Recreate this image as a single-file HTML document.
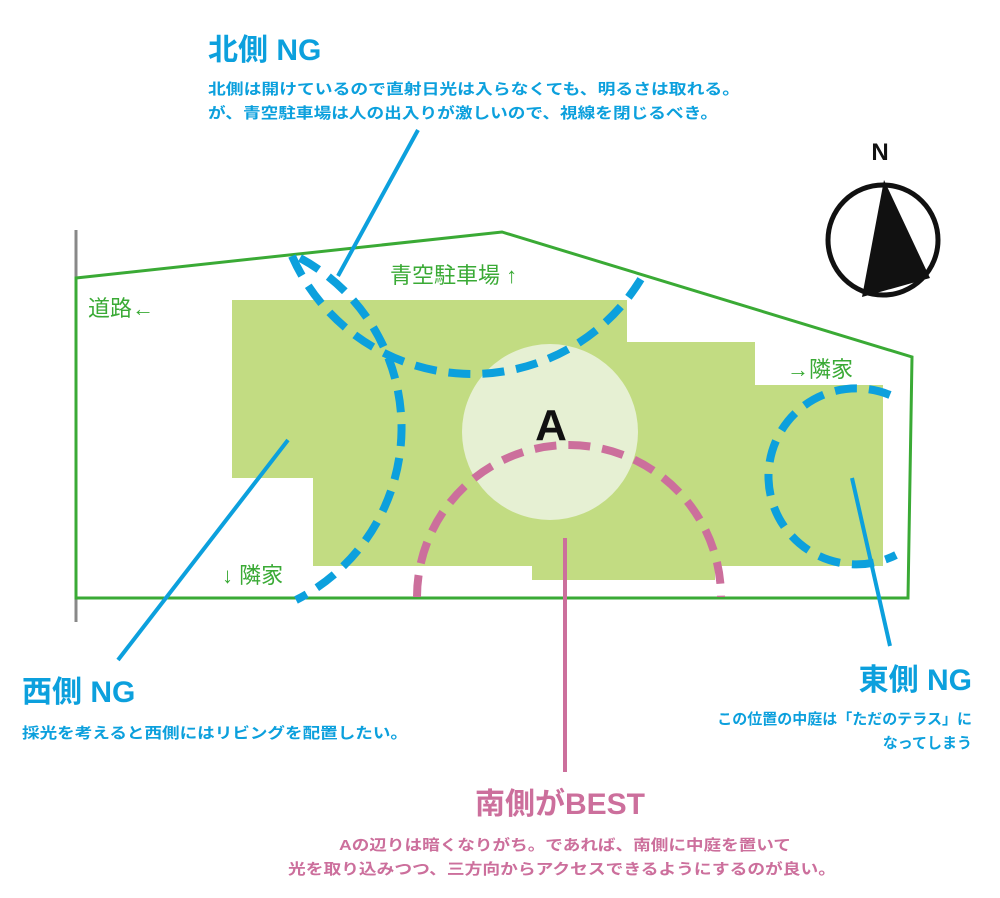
<!DOCTYPE html>
<html><head><meta charset="utf-8"><style>
html,body{margin:0;padding:0;background:#fff;}
svg{display:block;}
text{font-family:"Liberation Sans","Noto Sans CJK JP",sans-serif;font-weight:bold;}
</style></head><body>
<svg width="1000" height="898" viewBox="0 0 1000 898" xmlns="http://www.w3.org/2000/svg">
<!-- light green area -->
<polygon points="232,300 627,300 627,342 755,342 755,385 883,385 883,566 715,566 715,580 532,580 532,566 313,566 313,478 232,478" fill="#c2dc82"/>
<circle cx="550" cy="432" r="88" fill="#e6f0d3"/>
<text x="551" y="440" font-size="44" text-anchor="middle" fill="#111" font-family="Liberation Sans,sans-serif">A</text>
<!-- gray road line -->
<line x1="76" y1="230" x2="76" y2="622" stroke="#888" stroke-width="3"/>
<!-- site outline -->
<polygon points="76,278 502,232 912,357 908,598 76,598" fill="none" stroke="#3aaa35" stroke-width="3"/>
<!-- blue dashed arcs -->
<g fill="none" stroke="#0ca0dd" stroke-width="8" stroke-dasharray="22 12">
<path d="M292,256 A197,197 0 0 0 645,272"/>
<path d="M300,258 A193,193 0 0 1 296,600"/>
<path d="M890,395 A88,88 0 1 0 896,555"/>
</g>
<!-- pink dashed arc -->
<path d="M417,597 A152,152 0 0 1 721,597" fill="none" stroke="#cc6f9c" stroke-width="8" stroke-dasharray="22 12"/>
<line x1="565" y1="538" x2="565" y2="772" stroke="#cc6f9c" stroke-width="4"/>
<!-- blue pointer lines -->
<g stroke="#0ca0dd" stroke-width="4">
<line x1="418" y1="130" x2="338" y2="276"/>
<line x1="288" y1="440" x2="118" y2="660"/>
<line x1="852" y1="478" x2="890" y2="646"/>
</g>
<!-- green labels -->
<g fill="#3aaa35" font-size="22" font-weight="normal">
<text x="390" y="283" style="font-weight:normal">青空駐車場 ↑</text>
<text x="88" y="316" style="font-weight:normal">道路←</text>
<text x="787" y="377" style="font-weight:normal">→隣家</text>
<text x="222" y="583" style="font-weight:normal">↓ 隣家</text>
</g>
<!-- compass -->
<circle cx="883" cy="240" r="55" fill="none" stroke="#111" stroke-width="5"/>
<polygon points="884,180 862,297 930,278" fill="#111"/>
<text x="880" y="160" font-size="24" text-anchor="middle" fill="#111">N</text>
<!-- North -->
<g fill="#0ca0dd">
<text x="208" y="60" font-size="30">北側 NG</text>
<text x="208" y="94" font-size="15" textLength="532" lengthAdjust="spacingAndGlyphs">北側は開けているので直射日光は入らなくても、明るさは取れる。</text>
<text x="208" y="118" font-size="15" textLength="510" lengthAdjust="spacingAndGlyphs">が、青空駐車場は人の出入りが激しいので、視線を閉じるべき。</text>
<text x="22" y="702" font-size="30">西側 NG</text>
<text x="22" y="738" font-size="15" textLength="386" lengthAdjust="spacingAndGlyphs">採光を考えると西側にはリビングを配置したい。</text>
<text x="972" y="690" font-size="30" text-anchor="end">東側 NG</text>
<text x="972" y="724" font-size="15" text-anchor="end">この位置の中庭は「ただのテラス」に</text>
<text x="972" y="748" font-size="15" text-anchor="end">なってしまう</text>
</g>
<g fill="#cc6f9c" text-anchor="middle">
<text x="560" y="814" font-size="30">南側がBEST</text>
<text x="565" y="850" font-size="15" textLength="452" lengthAdjust="spacingAndGlyphs">Aの辺りは暗くなりがち。であれば、南側に中庭を置いて</text>
<text x="562" y="874" font-size="15" textLength="548" lengthAdjust="spacingAndGlyphs">光を取り込みつつ、三方向からアクセスできるようにするのが良い。</text>
</g>
</svg>
</body></html>
